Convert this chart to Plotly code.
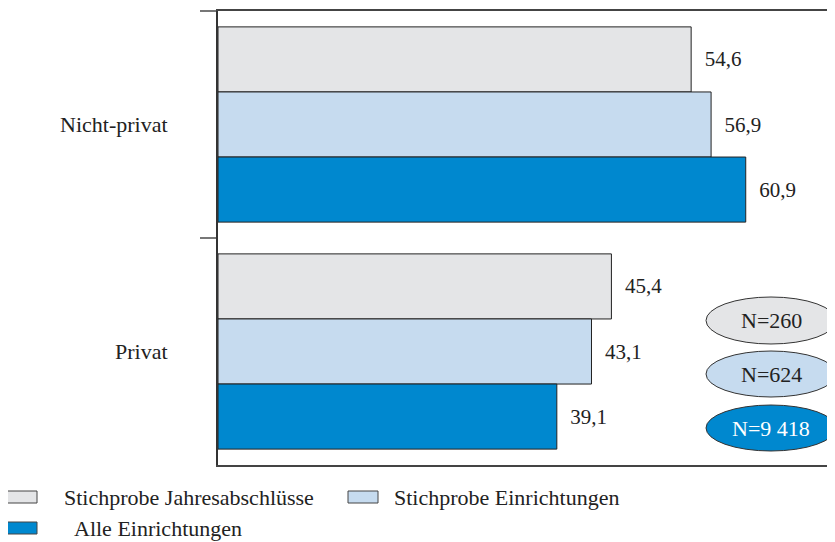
#!/usr/bin/env python3

import plotly.graph_objects as go

# data
categories = ["Nicht-privat", "Privat"]
series_names = ["Stichprobe Jahresabschlüsse", "Stichprobe Einrichtungen", "Alle Einrichtungen"]
stichprobe_ja = [54.6, 45.4]
stichprobe_ein = [56.9, 43.1]
alle_ein = [60.9, 39.1]
n_labels = ["N=260", "N=624", "N=9 418"]

COLORS = ["#e4e5e7", "#c6dbef", "#0088cf"]
FONT = "Liberation Serif"

# page puts the figure 8px in from the corner (body margin)
OFF = 8
W, H = 835 - OFF, 542 - OFF
LEFT, RIGHT, TOP, BOTTOM = 218 - OFF, 835 - OFF, 11 - OFF, 465 - OFF


def px_x(x):
    return (x - OFF - LEFT) / (RIGHT - LEFT)


def px_y(y):
    return (BOTTOM - (y - OFF)) / (BOTTOM - TOP)


fig = go.Figure()
for name, vals, col in zip(series_names, [stichprobe_ja, stichprobe_ein, alle_ein], COLORS):
    fig.add_trace(go.Bar(
        y=categories, x=vals, name=name, orientation="h",
        marker=dict(color=col, line=dict(color="#222222", width=1)),
        text=vals, texttemplate="\u00a0\u00a0%{x:.1f}", textposition="outside",
        textfont=dict(family=FONT, size=21, color="#222222"),
        constraintext="none", cliponaxis=False, showlegend=False,
    ))

shapes = []
annotations = []

# hand-made legend
legend_items = [
    (series_names[0], 7, 497, 62),
    (series_names[1], 348, 497, 392),
    (series_names[2], 7, 528, 72),
]
for (name, sx, sy, tx), col in zip(legend_items, COLORS):
    shapes.append(dict(type="rect", xref="paper", yref="paper",
                       x0=px_x(sx), x1=px_x(sx + 30), y0=px_y(sy - 6), y1=px_y(sy + 6),
                       fillcolor=col, line=dict(color="#444444", width=1)))
    annotations.append(dict(xref="paper", yref="paper", x=px_x(tx), y=px_y(sy),
                            text=name, showarrow=False, xanchor="left", yanchor="middle",
                            font=dict(family=FONT, size=22, color="#222222")))

# N ellipses
ell = [(297, 344), (351, 397), (405, 451)]
for (y0, y1), col, lab in zip(ell, COLORS, n_labels):
    shapes.append(dict(type="circle", xref="paper", yref="paper",
                       x0=px_x(706), x1=px_x(836), y0=px_y(y1), y1=px_y(y0),
                       fillcolor=col, line=dict(color="#333333", width=1)))
    annotations.append(dict(xref="paper", yref="paper", x=px_x(771), y=px_y((y0 + y1) / 2),
                            text=lab, showarrow=False, xanchor="center", yanchor="middle",
                            font=dict(family=FONT, size=22,
                                      color="white" if col == COLORS[2] else "#222222")))

fig.update_layout(
    width=W, height=H,
    margin=dict(l=LEFT, r=W - RIGHT, t=TOP, b=H - BOTTOM),
    paper_bgcolor="white", plot_bgcolor="white",
    barmode="group", bargap=0.14, bargroupgap=0,
    separators=", ",
    font=dict(family=FONT, size=22, color="#222222"),
    shapes=shapes, annotations=annotations,
    xaxis=dict(range=[0, 71.2], showgrid=False, zeroline=False, showticklabels=False,
               ticks="", showline=True, mirror=True, linecolor="#444444", linewidth=2),
    yaxis=dict(autorange="reversed", showgrid=False, showline=True, linecolor="#333333",
               linewidth=2, ticks="outside", ticklen=16, tickcolor="#777777", tickwidth=1.5,
               tickson="boundaries", ticklabelstandoff=44,
               tickfont=dict(family=FONT, size=22, color="#222222")),
)

fig.write_html("out.html")
